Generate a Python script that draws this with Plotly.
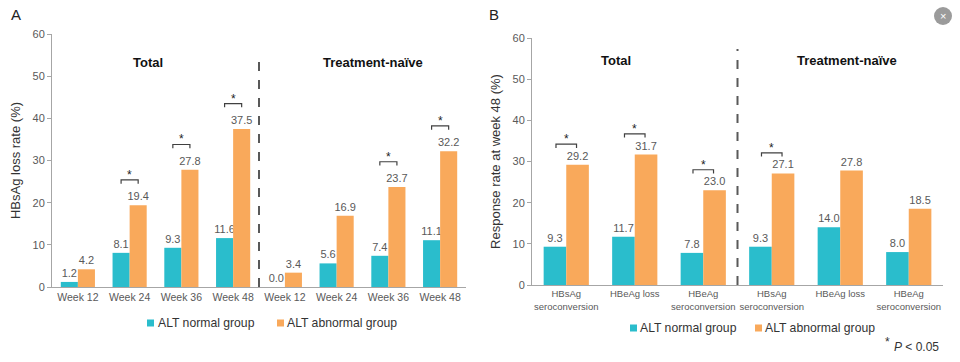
import plotly.graph_objects as go

# ---------------- data ----------------
a_ticks = ["Week 12", "Week 24", "Week 36", "Week 48", "Week 12", "Week 24", "Week 36", "Week 48"]
a_normal = [1.2, 8.1, 9.3, 11.6, 0.0, 5.6, 7.4, 11.1]
a_abnormal = [4.2, 19.4, 27.8, 37.5, 3.4, 16.9, 23.7, 32.2]
a_sig = [1, 2, 3, 6, 7]

b_ticks = ["HBsAg<br>seroconversion", "HBeAg loss", "HBeAg<br>seroconversion",
           "HBsAg<br>seroconversion", "HBeAg loss", "HBeAg<br>seroconversion"]
b_normal = [9.3, 11.7, 7.8, 9.3, 14.0, 8.0]
b_abnormal = [29.2, 31.7, 23.0, 27.1, 27.8, 18.5]
b_sig = [0, 1, 2, 3]

group_titles = ["Total", "Treatment-naïve"]
series_names = ["ALT normal group", "ALT abnormal group"]

TEAL = "#2ABDCC"
ORANGE = "#F9A95B"
GRAY = "#595959"
AX = "#A6A6A6"
FONT = "Arial, Liberation Sans, sans-serif"

W, H = 960, 362
def px(x): return x / W
def py(y): return 1 - y / H

fig = go.Figure()

a_x = list(range(len(a_ticks)))
b_x = list(range(len(b_ticks)))

def bar(xs, ys, color, xa, ya, og):
    return go.Bar(x=xs, y=ys, marker_color=color, marker_line_width=0,
                  text=[f"{v:.1f}" for v in ys], textposition="outside",
                  constraintext="none", cliponaxis=False, xaxis=xa, yaxis=ya,
                  offsetgroup=og, showlegend=False, hoverinfo="skip",
                  textfont=dict(size=11, color=GRAY, family=FONT))

fig.add_trace(bar(a_x, a_normal, TEAL, "x", "y", "n"))
fig.add_trace(bar(a_x, a_abnormal, ORANGE, "x", "y", "a"))
fig.add_trace(bar(b_x, b_normal, TEAL, "x2", "y2", "n"))
fig.add_trace(bar(b_x, b_abnormal, ORANGE, "x2", "y2", "a"))

shapes = []
annotations = []

def note(x, y, text, size, color="#333", xanchor="center", xref="paper", yref="paper", **kw):
    annotations.append(dict(x=x, y=y, xref=xref, yref=yref, text=text, showarrow=False,
                            xanchor=xanchor, yanchor=kw.pop("yanchor", "middle"),
                            font=dict(size=size, color=color, family=FONT), **kw))

def brackets(xref, yref, idx, vals, half, off, tick):
    for i in idx:
        yb = vals[i] + off
        x0, x1 = i - half, i + half
        shapes.append(dict(type="path", xref=xref, yref=yref,
                           path=f"M {x0} {yb - tick} L {x0} {yb} L {x1} {yb} L {x1} {yb - tick}",
                           line=dict(color="#404040", width=1.2)))
        note(i, yb, "*", 12, "#222", xref=xref, yref=yref, yanchor="bottom", yshift=-4)

brackets("x", "y", a_sig, a_abnormal, 0.165, 6.0, 0.9)
brackets("x2", "y2", b_sig, b_abnormal, 0.15, 5.0, 0.9)

# dashed separators
shapes.append(dict(type="line", xref="x", yref="y", x0=3.5, x1=3.5, y0=0, y1=55.5,
                   line=dict(color=GRAY, width=2, dash="dash")))
shapes.append(dict(type="line", xref="x2", yref="y2", x0=2.5, x1=2.5, y0=0, y1=57.3,
                   line=dict(color=GRAY, width=2, dash="dash")))

# group titles
for xp, t in zip([148, 373], group_titles):
    note(px(xp), py(62), f"<b>{t}</b>", 13, "#111")
for xp, t in zip([616, 847], group_titles):
    note(px(xp), py(61), f"<b>{t}</b>", 13, "#111")

# panel labels
note(px(9), py(15), "A", 15, "#222", xanchor="left")
note(px(487), py(15), "B", 15, "#222", xanchor="left")

# manual legends
def legend(xs, yc):
    for (xsq, xtx), color, name in zip(xs, [TEAL, ORANGE], series_names):
        shapes.append(dict(type="rect", xref="paper", yref="paper",
                           x0=px(xsq), x1=px(xsq + 7), y0=py(yc + 3.5), y1=py(yc - 3.5),
                           fillcolor=color, line=dict(width=0)))
        note(px(xtx), py(yc), name, 12.2, "#333", xanchor="left")
legend([(147, 156), (277, 285)], 323)
legend([(630, 638), (755, 763)], 328)

note(px(887), py(342), "*", 12, "#333")
note(px(941), py(347), "<i>P</i> < 0.05", 12, "#333", xanchor="right")

# close icon (screenshot artifact)
shapes.append(dict(type="circle", xref="paper", yref="paper", x0=px(934), x1=px(952), y0=py(25), y1=py(7),
                   fillcolor="#9B9B9B", line=dict(width=0)))
note(px(943), py(16), "×", 11, "white")

common_y = dict(range=[0, 60], dtick=10, showgrid=False, showline=True, linecolor=AX, linewidth=1,
                ticks="outside", ticklen=4, tickcolor=AX, zeroline=False, automargin=False,
                tickfont=dict(size=11, color=GRAY, family=FONT))
common_x = dict(showline=True, linecolor=AX, linewidth=1, ticks="", showgrid=False, zeroline=False,
                automargin=False)

fig.update_layout(
    width=W, height=H, margin=dict(l=0, r=0, t=0, b=0, autoexpand=False),
    paper_bgcolor="white", plot_bgcolor="white",
    barmode="group", bargap=0.34, bargroupgap=0,
    font=dict(family=FONT), hovermode=False,
    xaxis=dict(domain=[px(52), px(466)], range=[-0.5, 7.5], tickvals=a_x, ticktext=a_ticks, anchor="y",
               tickfont=dict(size=10.5, color=GRAY, family=FONT), **common_x),
    yaxis=dict(domain=[py(287), py(34)], anchor="x",
               title=dict(text="HBsAg loss rate (%)", font=dict(size=13, color="#333", family=FONT), standoff=8),
               **common_y),
    xaxis2=dict(domain=[px(532), px(943)], range=[-0.5, 5.5], tickvals=b_x, ticktext=b_ticks, anchor="y2",
                tickfont=dict(size=9.5, color=GRAY, family=FONT), **common_x),
    yaxis2=dict(domain=[py(285), py(38)], anchor="x2",
                title=dict(text="Response rate at week 48 (%)", font=dict(size=13, color="#333", family=FONT), standoff=8),
                **common_y),
    shapes=shapes, annotations=annotations,
)

fig.write_html("out.html", config={"displayModeBar": False},
               post_script="document.body.style.margin='0';document.body.style.overflow='hidden';")
